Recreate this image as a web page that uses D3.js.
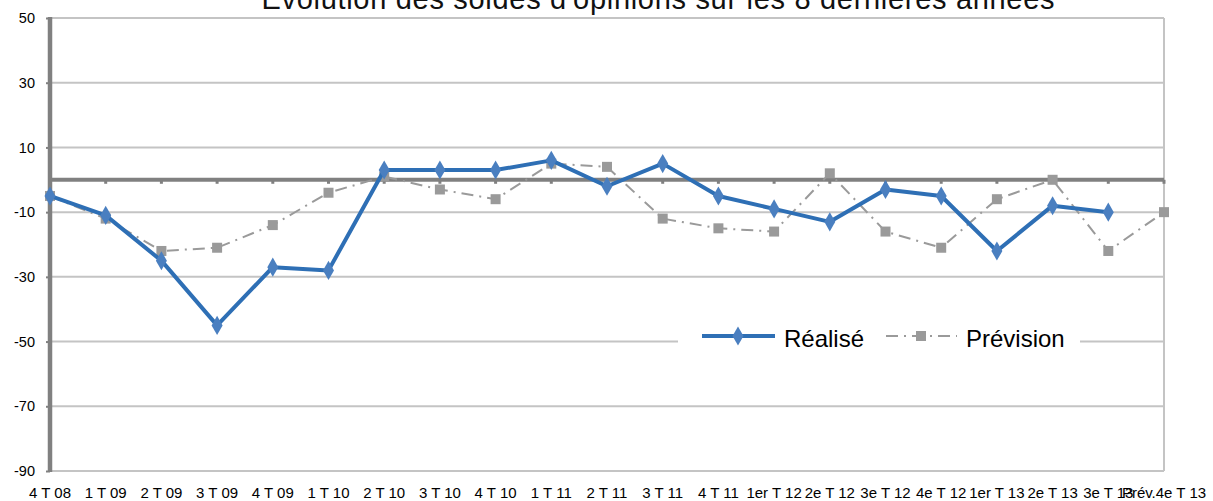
<!DOCTYPE html>
<html lang="fr">
<head>
    <meta charset="UTF-8">
    <title>Evolution des soldes d'opinions</title>
    <style>
        body { margin: 0; background: #fff; }
        text { font-family: "Liberation Sans", Arial, sans-serif; }
    </style>
</head>
<body>
<div id="chart"></div>
<script src="https://cdn.jsdelivr.net/npm/d3@7"></script>
<script>
    const width = 1213,
        height = 501;

    // donnees
    const categories = ["4 T 08", "1 T 09", "2 T 09", "3 T 09", "4 T 09", "1 T 10", "2 T 10",
        "3 T 10", "4 T 10", "1 T 11", "2 T 11", "3 T 11", "4 T 11", "1er T 12", "2e T 12",
        "3e T 12", "4e T 12", "1er T 13", "2e T 13", "3e T 13", "Prév.4e T 13"];
    const realise = [-5, -11, -25, -45, -27, -28, 3, 3, 3, 6, -2, 5, -5, -9, -13, -3, -5, -22, -8, -10, null];
    const prevision = [-5, -12, -22, -21, -14, -4, 1, -3, -6, 5, 4, -12, -15, -16, 2, -16, -21, -6, 0, -22, -10];
    const yTicks = [50, 30, 10, -10, -30, -50, -70, -90];
    const seriesNames = ["Réalisé", "Prévision"];
    const title = "Evolution des soldes d'opinions sur les 8 dernières années";

    let svg = d3.select("#chart")
        .append("svg")
        .attr("width", width)
        .attr("height", height)
        .style("background-color", "#fff");

    let xScale = d3.scalePoint().domain(categories).range([50, 1164]);
    let yScale = d3.scaleLinear().domain([-90, 50]).range([471, 18]);

    let axis = {
        "draw": function() {
            this.grid();
            this.yAxis();
            this.zeroAxis();
            this.xLabels();
        },
        "grid": function() {
            let g = svg.append("g").classed("grid", true);
            g.selectAll("line")
                .data(yTicks)
                .join("line")
                .attr("x1", xScale.range()[0])
                .attr("x2", xScale.range()[1])
                .attr("y1", d => yScale(d))
                .attr("y2", d => yScale(d))
                .style("stroke", "#c4c4c4")
                .style("stroke-width", 2);
            // bord droit
            g.append("line")
                .attr("x1", xScale.range()[1])
                .attr("x2", xScale.range()[1])
                .attr("y1", yScale(50))
                .attr("y2", yScale(-90))
                .style("stroke", "#c4c4c4")
                .style("stroke-width", 2);
        },
        "yAxis": function() {
            let yAxis = d3.axisLeft(yScale)
                .tickValues(yTicks)
                .tickSize(4)
                .tickPadding(11)
                .tickFormat(d => String(d));
            let g = svg.append("g")
                .classed("yaxis", true)
                .attr("transform", `translate(${xScale.range()[0]},0)`)
                .call(yAxis);
            g.select(".domain").remove();
            g.selectAll(".tick line").style("stroke", "#808080").style("stroke-width", 2);
            g.selectAll(".tick text")
                .style("font-size", "14.5px")
                .style("font-family", "'Liberation Sans', Arial, sans-serif")
                .style("fill", "#000");
            g.append("line")
                .attr("x1", 0).attr("x2", 0)
                .attr("y1", yScale(50) - 1)
                .attr("y2", yScale(-90) + 1)
                .style("stroke", "#808080")
                .style("stroke-width", 4.5);
        },
        "zeroAxis": function() {
            let g = svg.append("g").classed("zero", true);
            g.append("line")
                .attr("x1", xScale.range()[0])
                .attr("x2", xScale.range()[1])
                .attr("y1", yScale(0))
                .attr("y2", yScale(0))
                .style("stroke", "#808080")
                .style("stroke-width", 4);
            g.selectAll("rect")
                .data(categories.slice(1))
                .join("rect")
                .attr("x", d => xScale(d) - 1.5)
                .attr("y", yScale(0))
                .attr("width", 3)
                .attr("height", 4)
                .style("fill", "#808080");
        },
        "xLabels": function() {
            svg.append("g")
                .classed("xlabels", true)
                .selectAll("text")
                .data(categories)
                .join("text")
                .attr("x", d => xScale(d))
                .attr("y", 498)
                .attr("text-anchor", "middle")
                .style("font-size", "15px")
                .style("fill", "#000")
                .text(d => d);
        }
    };

    let chart = {
        "draw": function() {
            this.prevision();
            this.realise();
            this.legend();
            this.title();
        },
        "prevision": function() {
            let pts = categories.map((c, i) => ({"x": c, "y": prevision[i]})).filter(d => d.y !== null);
            let line = d3.line().x(d => xScale(d.x)).y(d => yScale(d.y));
            let g = svg.append("g").classed("prevision", true);
            g.append("path")
                .datum(pts)
                .attr("d", line)
                .style("fill", "none")
                .style("stroke", "#9a9a9a")
                .style("stroke-width", 2)
                .style("stroke-dasharray", "12,6,2,6");
            g.selectAll("rect")
                .data(pts)
                .join("rect")
                .attr("x", d => xScale(d.x) - 5)
                .attr("y", d => yScale(d.y) - 5)
                .attr("width", 10)
                .attr("height", 10)
                .style("fill", "#9a9a9a");
        },
        "realise": function() {
            let pts = categories.map((c, i) => ({"x": c, "y": realise[i]})).filter(d => d.y !== null);
            let line = d3.line().x(d => xScale(d.x)).y(d => yScale(d.y));
            let g = svg.append("g").classed("realise", true);
            g.append("path")
                .datum(pts)
                .attr("d", line)
                .style("fill", "none")
                .style("stroke", "#2e6fb5")
                .style("stroke-width", 4)
                .style("stroke-linejoin", "round");
            g.selectAll("path.marker")
                .data(pts)
                .join("path")
                .classed("marker", true)
                .attr("d", d3.symbol().type(d3.symbolDiamond).size(105))
                .attr("transform", d => `translate(${xScale(d.x)},${yScale(d.y)})`)
                .style("fill", "#4a7fc0");
        },
        "legend": function() {
            let ly = 336;
            let g = svg.append("g").classed("legend", true);
            g.append("rect")
                .attr("x", 678)
                .attr("y", 324)
                .attr("width", 402)
                .attr("height", 30)
                .style("fill", "#fff");
            g.append("line")
                .attr("x1", 702).attr("x2", 775)
                .attr("y1", ly).attr("y2", ly)
                .style("stroke", "#2e6fb5")
                .style("stroke-width", 4);
            g.append("path")
                .attr("d", d3.symbol().type(d3.symbolDiamond).size(105))
                .attr("transform", `translate(738,${ly})`)
                .style("fill", "#4a7fc0");
            g.append("text")
                .attr("x", 784)
                .attr("y", ly + 11)
                .style("font-size", "24px")
                .style("fill", "#000")
                .text(seriesNames[0]);
            g.append("line")
                .attr("x1", 886).attr("x2", 957)
                .attr("y1", ly).attr("y2", ly)
                .style("stroke", "#9a9a9a")
                .style("stroke-width", 2)
                .style("stroke-dasharray", "12,6,2,6");
            g.append("rect")
                .attr("x", 916).attr("y", ly - 5)
                .attr("width", 10).attr("height", 10)
                .style("fill", "#9a9a9a");
            g.append("text")
                .attr("x", 966)
                .attr("y", ly + 11)
                .style("font-size", "24px")
                .style("fill", "#000")
                .text(seriesNames[1]);
        },
        "title": function() {
            svg.append("text")
                .attr("x", 658)
                .attr("y", 9)
                .attr("text-anchor", "middle")
                .attr("textLength", 793)
                .attr("lengthAdjust", "spacing")
                .style("font-size", "29px")
                .style("fill", "#111")
                .text(title);
        }
    };

    axis.draw();
    chart.draw();
</script>
</body>
</html>
